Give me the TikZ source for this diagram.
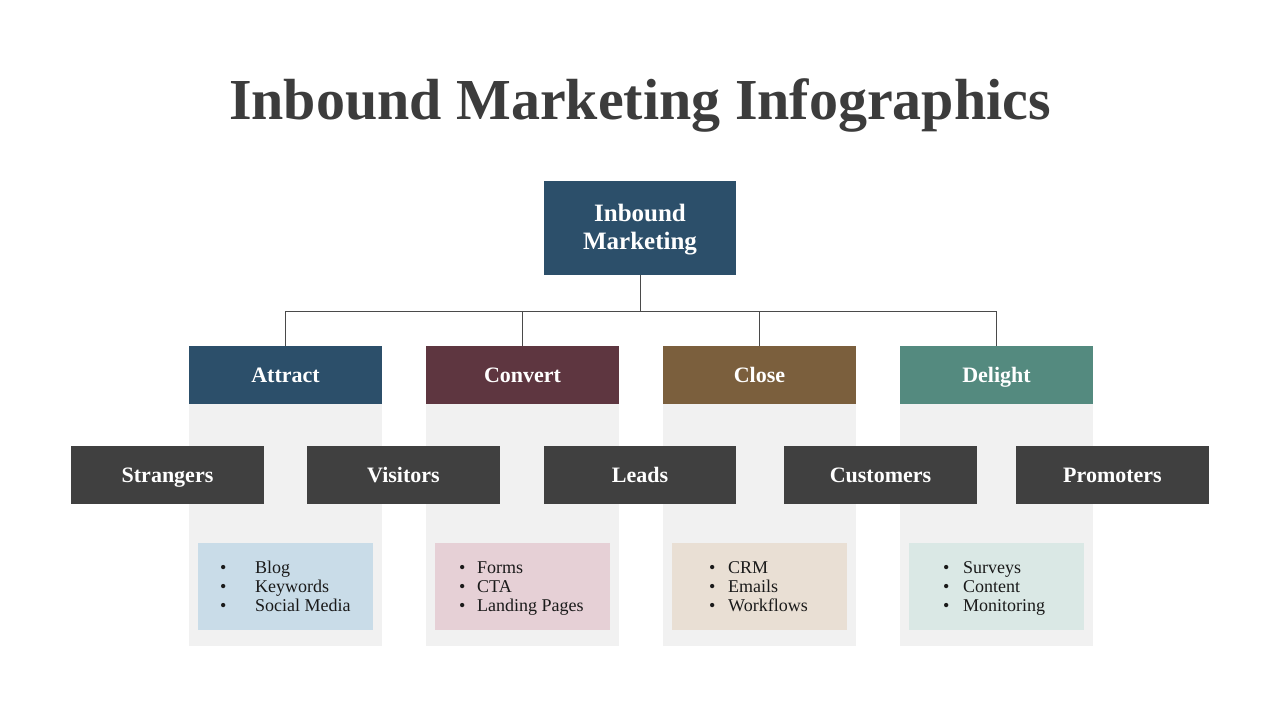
\documentclass[tikz,border=0pt]{standalone}
\usepackage{fontspec}
\setmainfont{Liberation Serif}
\definecolor{titlec}{HTML}{3C3C3C}
\definecolor{navy}{HTML}{2C4F6A}
\definecolor{wine}{HTML}{5E3640}
\definecolor{brownc}{HTML}{7B5F3D}
\definecolor{teal}{HTML}{548A7F}
\definecolor{darkc}{HTML}{404040}
\definecolor{panelc}{HTML}{F1F1F1}
\definecolor{blueL}{HTML}{C9DCE8}
\definecolor{pinkL}{HTML}{E6D0D6}
\definecolor{beigeL}{HTML}{E9DFD4}
\definecolor{mintL}{HTML}{DAE8E5}
\definecolor{linec}{HTML}{4A4A4A}
\definecolor{textc}{HTML}{1A1A1A}
\tikzset{
  boxbase/.style={draw=none, inner sep=0pt, minimum width=193pt, minimum height=58pt,
    text=white, font=\fontsize{22}{24}\selectfont\bfseries, text height=15.5pt, text depth=1pt},
  catbox/.style={boxbase},
  stagebox/.style={boxbase, fill=darkc},
  panel/.style={draw=none, fill=panelc, minimum width=193pt, minimum height=242pt, inner sep=0pt},
  listbox/.style={draw=none, minimum width=175pt, minimum height=87pt, inner sep=0pt},
  item/.style={anchor=base west, inner sep=0pt, text=textc, font=\fontsize{18}{19}\selectfont},
  conn/.style={draw=linec, line width=0.9pt}
}
\begin{document}
\begin{tikzpicture}[x=1pt,y=-1pt]
\useasboundingbox (0,0) rectangle (1280,720);
\fill[white] (0,0) rectangle (1280,720);
% title
\node[anchor=base, inner sep=0pt, text=titlec, font=\fontsize{58}{60}\selectfont\bfseries] (title) at (640,119) {Inbound Marketing Infographics};
% top box
\node[draw=none, fill=navy, minimum width=192pt, minimum height=94pt, inner sep=0pt, text=white,
  align=center, font=\fontsize{25}{28}\selectfont\bfseries] (top) at (640,228) {\rule{0pt}{21pt}Inbound\\Marketing};
% panels
\node[panel] (p1) at (285.5,525) {};
\node[panel] (p2) at (522.5,525) {};
\node[panel] (p3) at (759.5,525) {};
\node[panel] (p4) at (996.5,525) {};
% categories
\node[catbox, fill=navy] (attract) at (285.5,375) {Attract};
\node[catbox, fill=wine] (convert) at (522.5,375) {Convert};
\node[catbox, fill=brownc] (close) at (759.5,375) {Close};
\node[catbox, fill=teal] (delight) at (996.5,375) {Delight};
% connectors
\coordinate (hub) at (640,311);
\draw[conn] (top.south) -- (hub);
\draw[conn] (hub) -| (attract.north);
\draw[conn] (hub) -| (convert.north);
\draw[conn] (hub) -| (close.north);
\draw[conn] (hub) -| (delight.north);
% stages
\node[stagebox] (strangers) at (167.5,475) {Strangers};
\node[stagebox] (visitors) at (403.5,475) {Visitors};
\node[stagebox, minimum width=192pt] (leads) at (640,475) {Leads};
\node[stagebox] (customers) at (880.5,475) {Customers};
\node[stagebox] (promoters) at (1112.5,475) {Promoters};
% list boxes
\node[listbox, fill=blueL] (l1) at (285.5,586.5) {};
\node[listbox, fill=pinkL] (l2) at (522.5,586.5) {};
\node[listbox, fill=beigeL] (l3) at (759.5,586.5) {};
\node[listbox, fill=mintL] (l4) at (996.5,586.5) {};
% list items
\newcommand{\bul}[1]{\makebox[#1][l]{\textbullet}}
\node[item] (i11) at (220,573) {\bul{35pt}Blog};
\node[item] (i12) at (220,592) {\bul{35pt}Keywords};
\node[item] (i13) at (220,611) {\bul{35pt}Social Media};
\node[item] (i21) at (459,573) {\bul{18pt}Forms};
\node[item] (i22) at (459,592) {\bul{18pt}CTA};
\node[item] (i23) at (459,611) {\bul{18pt}Landing Pages};
\node[item] (i31) at (709,573) {\bul{19pt}CRM};
\node[item] (i32) at (709,592) {\bul{19pt}Emails};
\node[item] (i33) at (709,611) {\bul{19pt}Workflows};
\node[item] (i41) at (943,573) {\bul{20pt}Surveys};
\node[item] (i42) at (943,592) {\bul{20pt}Content};
\node[item] (i43) at (943,611) {\bul{20pt}Monitoring};
\end{tikzpicture}
\end{document}
